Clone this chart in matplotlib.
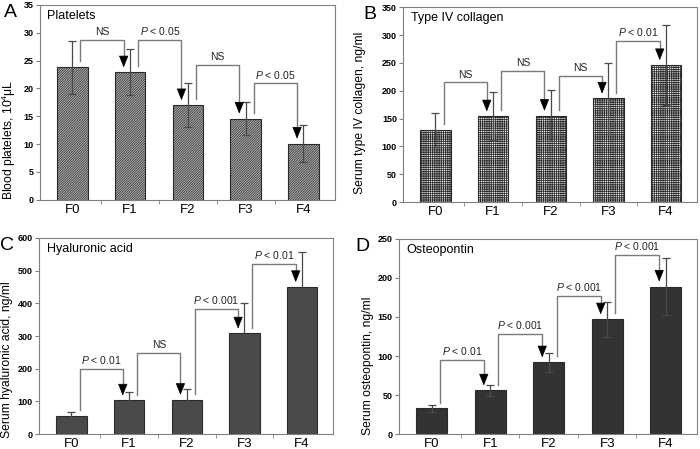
import matplotlib
matplotlib.use('Agg')
import matplotlib.pyplot as plt

plt.rcParams['font.family'] = ['Liberation Sans', 'DejaVu Sans']
plt.rcParams['mathtext.fontset'] = 'custom'
plt.rcParams['mathtext.rm'] = 'Liberation Sans'
plt.rcParams['mathtext.it'] = 'Liberation Sans:italic'
plt.rcParams['hatch.linewidth'] = 0.5

# =============================================================================
# ДАННЫЕ
# =============================================================================
categories = ['F0', 'F1', 'F2', 'F3', 'F4']

platelets_mean = [23.8, 22.9, 17.0, 14.6, 10.1]
platelets_sd = [4.8, 4.1, 4.0, 3.0, 3.3]
platelets_bracket = [28.7, 28.7, 24.2, 20.9]
platelets_labels = ['NS', r'$\it{P}$ < 0.05', 'NS', r'$\it{P}$ < 0.05']

collagen_mean = [129, 154, 155, 186, 246]
collagen_sd = [31, 43, 46, 63, 72]
collagen_bracket = [215, 235, 226, 290]
collagen_labels = ['NS', 'NS', 'NS', r'$\it{P}$ < 0.01']

ha_mean = [55, 103, 105, 308, 450]
ha_sd = [12, 26, 33, 92, 107]
ha_bracket = [200, 248, 384, 521]
ha_labels = [r'$\it{P}$ < 0.01', 'NS', r'$\it{P}$ < 0.001', r'$\it{P}$ < 0.01']

opn_mean = [33, 56, 92, 147, 189]
opn_sd = [4, 7.5, 12.5, 22, 37]
opn_bracket = [95, 128, 177, 229]
opn_labels = [r'$\it{P}$ < 0.01', r'$\it{P}$ < 0.001', r'$\it{P}$ < 0.001', r'$\it{P}$ < 0.001']

SPINE = '#808080'
LINE = '#7a7a7a'
FIG_W = 700


def draw_panel(fig, rect, letter, letter_x, title, ylabel, ylabel_pos,
               means, sds, ymax, ystep, brackets, labels, face, hatch=None):
    ax = fig.add_axes(rect)
    x = list(range(len(categories)))
    ax.bar(x, means, width=0.53, color=face, edgecolor='#2a2a2a',
           linewidth=0.8, hatch=hatch, zorder=2)
    ax.errorbar(x, means, yerr=sds, fmt='none', ecolor='#4a4a4a',
                elinewidth=0.9, capsize=3, capthick=0.9, zorder=3)

    # Скобки со стрелками между соседними группами
    for i, (top, lab) in enumerate(zip(brackets, labels)):
        x0 = i + 0.14
        x1 = i + 1 - 0.11
        y0 = means[i] + 0.03 * ymax
        tip = means[i + 1] + 0.025 * ymax
        ax.plot([x0, x0, x1, x1], [y0, top, top, tip + 0.03 * ymax],
                color=LINE, linewidth=1.0, zorder=4)
        ax.annotate('', xy=(x1, tip), xytext=(0, 7), textcoords='offset points',
                    arrowprops=dict(arrowstyle='-|>,head_length=0.75,head_width=0.3',
                                    fc='k', ec='k', lw=0.5, shrinkA=0, shrinkB=0),
                    zorder=5)
        ax.annotate(lab, xy=((x0 + x1) / 2, top), xytext=(0, 2),
                    textcoords='offset points', ha='center', va='bottom',
                    fontsize=7.5, color='#222222')

    ax.set_xlim(-0.56, 4.54)
    ax.set_ylim(0, ymax)
    ax.set_yticks([v for v in range(0, int(ymax) + 1, ystep)])
    ax.set_xticks(x)
    ax.set_xticklabels(categories, fontsize=9.5)
    ax.set_xticks([0.5, 1.5, 2.5, 3.5], minor=True)
    ax.tick_params(axis='x', which='major', length=0, pad=3)
    ax.tick_params(axis='x', which='minor', length=3, color=SPINE, direction='out')
    ax.tick_params(axis='y', length=3, color=SPINE, direction='out', labelsize=6.5, pad=1.5)
    for t in ax.get_yticklabels():
        t.set_fontweight('bold')
    for s in ax.spines.values():
        s.set_color(SPINE)
        s.set_linewidth(0.8)
    ax.set_ylabel(ylabel, fontsize=8.7)
    off_px, yfrac = ylabel_pos
    ax.yaxis.set_label_coords(-off_px / (rect[2] * FIG_W), yfrac)
    ax.text(0.025, 0.975, title, transform=ax.transAxes, ha='left', va='top', fontsize=9)
    fig.text(letter_x, rect[1] + rect[3] + 0.003, letter, fontsize=14,
             ha='left', va='top')
    return ax


fig = plt.figure(figsize=(7.0, 4.49), dpi=100)

draw_panel(fig, [0.057, 0.555, 0.421, 0.434], 'A', 0.006, 'Platelets',
           'Blood platelets, 10$^4$μL', (22, 0.31), platelets_mean, platelets_sd, 35, 5,
           platelets_bracket, platelets_labels, '#b4b4b4', hatch='/' * 14)
draw_panel(fig, [0.576, 0.550, 0.420, 0.434], 'B', 0.519, 'Type IV collagen',
           'Serum type IV collagen, ng/ml', (37, 0.46), collagen_mean, collagen_sd, 350, 50,
           collagen_bracket, collagen_labels, '#f2f2f2', hatch='+' * 9)
draw_panel(fig, [0.056, 0.033, 0.420, 0.437], 'C', 0.0, 'Hyaluronic acid',
           'Serum hyaluronic acid, ng/ml', (26, 0.38), ha_mean, ha_sd, 600, 100,
           ha_bracket, ha_labels, '#4a4a4a')
draw_panel(fig, [0.570, 0.033, 0.426, 0.435], 'D', 0.507, 'Osteopontin',
           'Serum osteopontin, ng/ml', (25, 0.35), opn_mean, opn_sd, 250, 50,
           opn_bracket, opn_labels, '#333333')

plt.savefig('out.png', dpi=100)
